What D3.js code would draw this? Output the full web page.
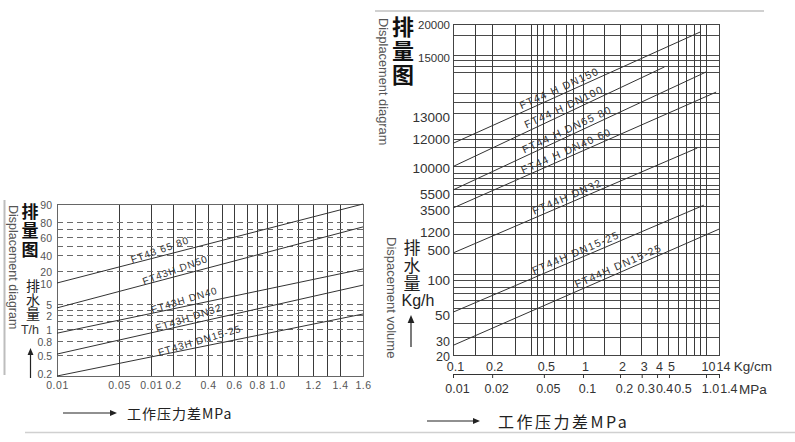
<!DOCTYPE html>
<html><head><meta charset="utf-8"><title>排量图</title>
<script src="https://cdn.jsdelivr.net/npm/d3@7/dist/d3.min.js"></script>
<style>
html,body{margin:0;padding:0;background:#fff;}
svg{display:block;}
.vt{writing-mode:vertical-rl;text-orientation:upright;}
</style></head><body>
<svg id="chart" width="795" height="442"></svg>
<script>
// ================= DATA: left chart (FT43H, T/h vs MPa) =================
const leftYTicks = [0.2, 0.5, 0.8, 1, 2, 5, 10, 20, 40, 60, 80, 90];
const leftYDashed = [80, 70, 60, 50, 40, 20, 5, 3, 2, 1.5, 1, 0.8, 0.5];
const leftXTicks = [0.01, 0.05, 0.1, 0.2, 0.4, 0.6, 0.8, 1.0, 1.2, 1.4, 1.6];
const leftXTickLabels = ["0.01", "0.05", "0.01", "0.2", "0.4", "0.6", "0.8", "1.0", "1.2", "1.4", "1.6"];
const leftXGrid = [0.05, 0.1, 0.2, 0.3, 0.4, 0.5, 0.6, 0.7, 0.8, 0.9, 1.0, 1.1, 1.2, 1.3, 1.4];
const leftSeries = ["FT43 65 80", "FT43H DN50", "FT43H DN40", "FT43H DN32", "FT43H DN15-25"];
const leftStart = [10, 3.7, 0.93, 0.52, 0.2];     // T/h at 0.01 MPa
const leftEnd = [90, 73, 22.5, 9.5, 2.2];         // T/h at 1.6 MPa
const leftLabelAt = [0.15, 0.22, 0.26, 0.28, 0.35];

// ================= DATA: right chart (FT44H, Kg/h vs Kg/cm) =================
const rightYTicks = [20, 30, 50, 100, 500, 1200, 3500, 5500, 10000, 12000, 13000, 15000, 20000];
const rightYGrid = [18300, 15300, 14900, 14700, 14500, 13800, 13500, 13100, 12200, 12000, 11400, 10100,
                    9100, 8100, 6900, 6200, 5400, 4000, 2200, 1100, 450, 170, 100, 90, 81, 71, 60, 44, 34];
const rightXTicksKg = [0.1, 0.2, 0.5, 1, 2, 3, 4, 5, 10, 14];
const rightXTickLabelsKg = ["0.1", "0.2", "0.5", "1", "2", "3", "4", "5", "10", "14"];
const rightXTickLabelsMPa = ["0.01", "0.02", "0.05", "0.1", "0.2", "0.3", "0.4", "0.5", "1.0", "1.4"];
const rightXGrid = [0.15, 0.2, 0.3, 0.4, 0.45, 0.5, 0.6, 0.75, 0.85, 1, 1.5, 2, 3, 4, 5, 6, 7, 8, 9, 10];
const rightSeries = ["FT44 H DN150", "FT44 H DN100", "FT44 H DN65 80", "FT44 H DN40 60", "FT44H DN32", "FT44H DN15-25", "FT44H DN15-25"];
const rightStart = [11700, 10100, 6200, 3750, 460, 54, 28];       // Kg/h at 0.1 Kg/cm
const rightEndX = [9, 4.6, 10, 13, 8.5, 9.6, 14];                 // Kg/cm at line end
const rightEndY = [18800, 14670, 14500, 13830, 11380, 4100, 1500]; // Kg/h at line end
const rightLabelAt = [0.69, 0.75, 0.79, 0.78, 0.79, 0.92, 2.04];

// ================= LAYOUT =================
const LAT = '"Liberation Sans", Arial, sans-serif';
const CJK = '"Noto Sans CJK SC", "Noto Sans CJK JP", sans-serif';
const crisp = v => Math.round(v - 0.5) + 0.5;
const svg = d3.select("#chart");

// left scales (hand-drawn, non-uniform axes -> polylinear scales)
const xL = d3.scaleLinear()
  .domain([0.01, 0.05, 0.1, 0.2, 0.3, 0.4, 0.5, 0.6, 0.7, 0.8, 0.9, 1.0, 1.1, 1.2, 1.3, 1.4, 1.6])
  .range([57, 119, 151, 173, 195, 208, 222, 234, 247, 257, 267, 277, 298, 313, 327, 340, 363]);
const yL = d3.scaleLinear()
  .domain([0.2, 0.5, 0.8, 1, 1.5, 2, 3, 5, 10, 20, 40, 50, 60, 70, 80, 90])
  .range([376, 355, 341, 329, 321, 315, 310, 304, 283, 271, 255, 246, 237, 229, 222, 204]);
// right scales
const xR = d3.scaleLog().domain([0.1, 1, 10, 14]).range([453, 583, 706, 719]);
const yR = d3.scaleLinear().domain(rightYTicks)
  .range([355, 343, 315, 280, 250, 232, 210, 194, 168, 139, 117, 57, 24]);

// ================= decorative rules =================
svg.append("line").attr("x1", 375).attr("x2", 764).attr("y1", 11).attr("y2", 11)
  .attr("stroke", "#d0d0d0").attr("stroke-width", 2);
svg.append("line").attr("x1", 25).attr("x2", 795).attr("y1", 432.5).attr("y2", 432.5)
  .attr("stroke", "#d0d0d0").attr("stroke-width", 1.5);
svg.append("line").attr("x1", 4.5).attr("x2", 4.5).attr("y1", 200).attr("y2", 375)
  .attr("stroke", "#bdbdbd").attr("stroke-width", 2);

function arrow(x1, y1, x2, y2, head, color) {
  const a = Math.atan2(y2 - y1, x2 - x1);
  const bx = x2 - Math.cos(a) * head, by = y2 - Math.sin(a) * head;
  const w = head * 0.42;
  svg.append("line").attr("x1", x1).attr("y1", y1).attr("x2", bx).attr("y2", by)
    .attr("stroke", color).attr("stroke-width", 1.2);
  svg.append("path")
    .attr("d", `M${x2},${y2}L${bx - Math.sin(a) * w},${by + Math.cos(a) * w}L${bx + Math.sin(a) * w},${by - Math.cos(a) * w}Z`)
    .attr("fill", color);
}

// vertical stacked CJK caption (one text element, vertical writing mode)
function vtext(str, x, top, size, spacing, bold) {
  svg.append("text").attr("class", "vt").attr("x", x).attr("y", top)
    .attr("font-family", CJK).attr("font-size", size)
    .attr("font-weight", bold ? "bold" : "normal")
    .attr("letter-spacing", spacing).attr("fill", bold ? "#111" : "#222").text(str);
}

function labelPos(d, xs, ys) {
  const p0 = [xs(d.pts[0][0]), ys(d.pts[0][1])];
  const p1 = [xs(d.pts[1][0]), ys(d.pts[1][1])];
  const px = xs(d.at);
  const t = (px - p0[0]) / (p1[0] - p0[0]);
  const py = p0[1] + t * (p1[1] - p0[1]);
  const ang = Math.atan2(p1[1] - p0[1], p1[0] - p0[0]) * 180 / Math.PI;
  return { px, py, ang };
}

// ================= LEFT CHART =================
const L = { left: xL(0.01), right: xL(1.6), top: yL(90), bottom: yL(0.2) };
const gL = svg.append("g");
gL.selectAll(null).data(leftXGrid).join("line")
  .attr("x1", d => crisp(xL(d))).attr("x2", d => crisp(xL(d)))
  .attr("y1", L.top).attr("y2", L.bottom)
  .attr("stroke", "#3a3a3a").attr("stroke-width", 1);
gL.selectAll(null).data(leftYDashed).join("line")
  .attr("x1", L.left).attr("x2", L.right)
  .attr("y1", d => crisp(yL(d))).attr("y2", d => crisp(yL(d)))
  .attr("stroke", "#6a6a6a").attr("stroke-width", 1).attr("stroke-dasharray", "6,4");
gL.append("rect").attr("x", crisp(L.left)).attr("y", crisp(L.top))
  .attr("width", L.right - L.left).attr("height", L.bottom - L.top)
  .attr("fill", "none").attr("stroke", "#666").attr("stroke-width", 1);

const leftData = leftSeries.map((name, i) => ({
  name, at: leftLabelAt[i],
  pts: [[leftXTicks[0], leftStart[i]], [leftXTicks[leftXTicks.length - 1], leftEnd[i]]]
}));
const lineL = d3.line().x(d => xL(d[0])).y(d => yL(d[1]));
gL.selectAll(null).data(leftData).join("path")
  .attr("d", d => lineL(d.pts)).attr("fill", "none")
  .attr("stroke", "#333").attr("stroke-width", 1);
gL.selectAll(null).data(leftData).join("text")
  .attr("transform", d => { const p = labelPos(d, xL, yL); return `translate(${p.px},${p.py}) rotate(${p.ang - 5})`; })
  .attr("dy", -3).attr("text-anchor", "middle")
  .attr("font-family", LAT).attr("font-size", 10).attr("letter-spacing", 1).attr("fill", "#333")
  .text(d => d.name);

const axLY = svg.append("g").attr("transform", `translate(${L.left},0)`)
  .call(d3.axisLeft(yL).tickValues(leftYTicks).tickFormat(d => String(d)).tickSize(0).tickPadding(5));
axLY.select(".domain").remove();
axLY.attr("font-family", LAT).attr("font-size", 10.5);
axLY.selectAll("text").attr("fill", "#555").attr("dy", d => d === 0.2 ? "0.15em" : "0.45em");

const axLX = svg.append("g").attr("transform", `translate(0,${L.bottom})`)
  .call(d3.axisBottom(xL).tickValues(leftXTicks).tickFormat((d, i) => leftXTickLabels[i]).tickSize(0).tickPadding(6));
axLX.select(".domain").remove();
axLX.attr("font-family", LAT).attr("font-size", 10.5);
axLX.selectAll("text").attr("fill", "#555").attr("letter-spacing", 0.5);

// left titles
svg.append("text").attr("transform", "translate(9,205) rotate(90)")
  .attr("font-family", LAT).attr("font-size", 12.5).attr("fill", "#555").text("Displacement diagram");
vtext("排量图", 30, 203.5, 17, 2, true);
vtext("排水量", 33, 279, 14, 0, false);
svg.append("text").attr("x", 30).attr("y", 329.5).attr("text-anchor", "middle").attr("dominant-baseline", "central")
  .attr("font-family", LAT).attr("font-size", 12.5).attr("fill", "#333").text("T/h");
arrow(30.5, 378, 30.5, 348, 7, "#222");
arrow(63, 413, 117, 413, 7, "#222");
svg.append("text").attr("x", 127).attr("y", 413).attr("dominant-baseline", "central")
  .attr("font-family", CJK).attr("font-size", 14).attr("letter-spacing", 1).attr("fill", "#222").text("工作压力差MPa");

// ================= RIGHT CHART =================
const R = { left: xR(0.1), right: xR(14), top: yR(20000), bottom: yR(20) };
const gR = svg.append("g");
gR.selectAll(null).data(rightYGrid).join("line")
  .attr("x1", R.left).attr("x2", R.right)
  .attr("y1", d => crisp(yR(d))).attr("y2", d => crisp(yR(d)))
  .attr("stroke", "#4a4a4a").attr("stroke-width", 1);
gR.selectAll(null).data(rightXGrid).join("line")
  .attr("x1", d => crisp(xR(d))).attr("x2", d => crisp(xR(d)))
  .attr("y1", R.top).attr("y2", R.bottom)
  .attr("stroke", "#3a3a3a").attr("stroke-width", 1);
gR.append("rect").attr("x", crisp(R.left)).attr("y", crisp(R.top))
  .attr("width", R.right - R.left).attr("height", R.bottom - R.top)
  .attr("fill", "none").attr("stroke", "#444").attr("stroke-width", 1);

const rightData = rightSeries.map((name, i) => ({
  name, at: rightLabelAt[i],
  pts: [[rightXTicksKg[0], rightStart[i]], [rightEndX[i], rightEndY[i]]]
}));
const lineR = d3.line().x(d => xR(d[0])).y(d => yR(d[1]));
gR.selectAll(null).data(rightData).join("path")
  .attr("d", d => lineR(d.pts)).attr("fill", "none")
  .attr("stroke", "#333").attr("stroke-width", 1);
gR.selectAll(null).data(rightData).join("text")
  .attr("transform", d => { const p = labelPos(d, xR, yR); return `translate(${p.px},${p.py}) rotate(${p.ang})`; })
  .attr("dy", -3).attr("text-anchor", "middle")
  .attr("font-family", LAT).attr("font-size", 10.5).attr("letter-spacing", 1.3).attr("fill", "#333")
  .text(d => d.name);

const axRY = svg.append("g").attr("transform", `translate(${R.left},0)`)
  .call(d3.axisLeft(yR).tickValues(rightYTicks).tickFormat(d => String(d)).tickSize(0).tickPadding(3));
axRY.select(".domain").remove();
axRY.attr("font-family", LAT);
axRY.selectAll("text").attr("fill", "#333")
  .attr("font-size", d => d >= 15000 ? 11.5 : (d <= 30 ? 12.5 : 13.5))
  .attr("dy", d => d === 30 ? "0.2em" : (d === 20 ? "0.46em" : "0.36em"));

function declutter(axisG, scale, offset, gap) {
  let prevRight = -Infinity;
  axisG.selectAll(".tick text").each(function (d) {
    const w = this.getComputedTextLength();
    let cx = scale(d) + offset;
    if (cx - w / 2 < prevRight + gap) cx = prevRight + gap + w / 2;
    d3.select(this).attr("x", cx - scale(d));
    prevRight = cx + w / 2;
  });
  return prevRight;
}

const axisY = 374;
const axKg = svg.append("g").attr("transform", `translate(0,${axisY})`)
  .call(d3.axisTop(xR).tickValues(rightXTicksKg).tickFormat((d, i) => rightXTickLabelsKg[i]).tickSize(0).tickPadding(3.5));
axKg.select(".domain").remove();
axKg.attr("font-family", LAT).attr("font-size", 12.5);
axKg.selectAll("text").attr("fill", "#333");
const kgEnd = declutter(axKg, xR, 2, 1);
svg.append("text").attr("x", kgEnd + 4).attr("y", axisY - 3.5)
  .attr("font-family", LAT).attr("font-size", 13.5).attr("fill", "#333").text("Kg/cm");

const axMPa = svg.append("g").attr("transform", `translate(0,${axisY})`)
  .call(d3.axisBottom(xR).tickValues(rightXTicksKg).tickFormat((d, i) => rightXTickLabelsMPa[i]).tickSize(4).tickSizeOuter(0).tickPadding(6.5));
axMPa.attr("font-family", LAT).attr("font-size", 12.5);
axMPa.select(".domain").attr("stroke", "#333");
axMPa.selectAll(".tick line").attr("stroke", "#333");
axMPa.selectAll("text").attr("fill", "#333");
const mpaEnd = declutter(axMPa, xR, 4, 1);
svg.append("text").attr("x", mpaEnd + 2).attr("y", axisY + 4 + 6.5).attr("dy", "0.71em")
  .attr("font-family", LAT).attr("font-size", 13.5).attr("fill", "#333").text("MPa");

// right titles
svg.append("text").attr("transform", "translate(379,18) rotate(90)")
  .attr("font-family", LAT).attr("font-size", 12.8).attr("fill", "#555").text("Displacement diagram");
svg.append("text").attr("transform", "translate(387,237) rotate(90)")
  .attr("font-family", LAT).attr("font-size", 13).attr("fill", "#555").text("Dispacement volume");
vtext("排量图", 403, 16, 22, 2, true);
vtext("排水量", 412, 239.5, 17, 1, false);
svg.append("text").attr("x", 418).attr("y", 300).attr("text-anchor", "middle").attr("dominant-baseline", "central")
  .attr("font-family", LAT).attr("font-size", 16).attr("fill", "#222").text("Kg/h");
arrow(411, 347, 411, 315, 8, "#222");
arrow(427, 421, 480, 421, 7, "#222");
svg.append("text").attr("x", 498).attr("y", 421).attr("dominant-baseline", "central")
  .attr("font-family", CJK).attr("font-size", 16).attr("letter-spacing", 2.5).attr("fill", "#222").text("工作压力差MPa");
</script>
</body></html>
